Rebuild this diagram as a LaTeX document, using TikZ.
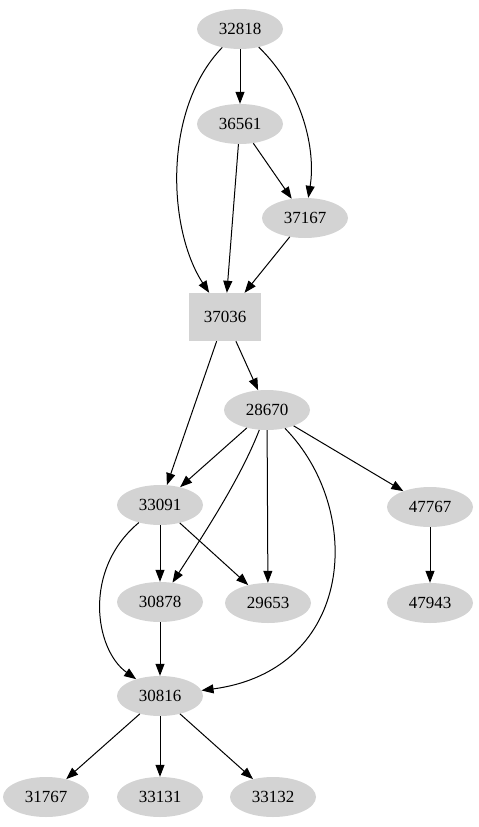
\documentclass[tikz,border=0pt]{standalone}
\usepackage{fontspec}
\setmainfont{Liberation Serif}
\usetikzlibrary{shapes.geometric,arrows.meta}
\definecolor{nodegray}{HTML}{D3D3D3}

\begin{document}
\begin{tikzpicture}[x=1pt, y=-1pt, every node/.style={font=\fontsize{17}{19}\selectfont},
  oval/.style={ellipse, fill=nodegray, minimum width=86pt, minimum height=40pt, inner sep=0pt},
  block/.style={rectangle, fill=nodegray, minimum width=72pt, minimum height=48pt, inner sep=0pt},
  edge/.style={-{Triangle[length=12pt,width=9pt]}, line width=1pt}]
  \useasboundingbox (0,0) rectangle (479,827);
  % nodes
  \node[oval] (n32818) at (240,29) {32818};
  \node[oval] (n36561) at (240,124) {36561};
  \node[oval] (n37167) at (305,218) {37167};
  \node[block] (n37036) at (225,317) {37036};
  \node[oval] (n28670) at (267,410) {28670};
  \node[oval] (n33091) at (160,505) {33091};
  \node[oval] (n47767) at (430,507) {47767};
  \node[oval] (n30878) at (160,602) {30878};
  \node[oval] (n29653) at (268,603) {29653};
  \node[oval] (n47943) at (430,603) {47943};
  \node[oval] (n30816) at (160,696) {30816};
  \node[oval] (n31767) at (46,797) {31767};
  \node[oval] (n33131) at (160,797) {33131};
  \node[oval] (n33132) at (273,797) {33132};
  % edges
  \draw[edge] (n32818) -- (n36561);
  \draw[edge] (n32818) .. controls (162,110) and (168,230) .. (n37036);
  \draw[edge] (n32818) .. controls (303,90) and (316,150) .. (n37167);
  \draw[edge] (n36561) -- (n37167);
  \draw[edge] (n36561) -- (n37036);
  \draw[edge] (n37167) -- (n37036);
  \draw[edge] (n37036) -- (n28670);
  \draw[edge] (n37036) -- (n33091);
  \draw[edge] (n28670) -- (n33091);
  \draw[edge] (n28670) .. controls (240,480) and (200,540) .. (n30878);
  \draw[edge] (n28670) -- (n29653);
  \draw[edge] (n28670) .. controls (365,510) and (355,670) .. (n30816);
  \draw[edge] (n28670) -- (n47767);
  \draw[edge] (n33091) -- (n30878);
  \draw[edge] (n33091) -- (n29653);
  \draw[edge] (n33091) .. controls (82,570) and (95,650) .. (n30816);
  \draw[edge] (n30878) -- (n30816);
  \draw[edge] (n47767) -- (n47943);
  \draw[edge] (n30816) -- (n31767);
  \draw[edge] (n30816) -- (n33131);
  \draw[edge] (n30816) -- (n33132);
\end{tikzpicture}
\end{document}
